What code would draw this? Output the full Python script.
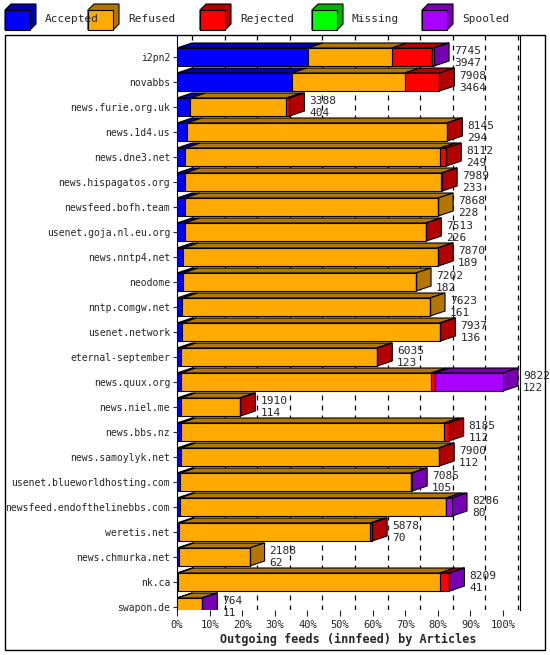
import numpy as np, pandas as pd, seaborn as sns, matplotlib
matplotlib.use("Agg")
import matplotlib.pyplot as plt
from matplotlib.patches import Polygon, Rectangle
import matplotlib.colors as mc

hosts = ["i2pn2","novabbs","news.furie.org.uk","news.1d4.us","news.dne3.net","news.hispagatos.org",
 "newsfeed.bofh.team","usenet.goja.nl.eu.org","news.nntp4.net","neodome","nntp.comgw.net",
 "usenet.network","eternal-september","news.quux.org","news.niel.me","news.bbs.nz",
 "news.samoylyk.net","usenet.blueworldhosting.com","newsfeed.endofthelinebbs.com","weretis.net",
 "news.chmurka.net","nk.ca","swapon.de"]
offered = [7745,7908,3388,8145,8112,7989,7868,7513,7870,7202,7623,7937,6035,9822,1910,8185,7900,7085,8286,5878,2188,8209,764]
accepted = [3947,3464,404,294,249,233,228,226,189,182,161,136,123,122,114,112,112,105,80,70,62,41,11]
rejected = [1230,1050,90,20,180,20,0,20,20,0,0,20,20,120,20,140,20,0,0,60,0,270,0]
missing = [0]*23
spooled = [50,0,0,0,0,0,0,0,0,0,0,0,0,2050,0,0,0,20,180,0,0,20,20]
refused = [o-a-r-m-s for o,a,r,m,s in zip(offered,accepted,rejected,missing,spooled)]
cats = ["Accepted","Refused","Rejected","Missing","Spooled"]
colors = ["#0000ff","#ffaa00","#ff0000","#00ff00","#aa00ff"]

mx = max(offered)
df = pd.DataFrame({"host":hosts,"Accepted":accepted,"Refused":refused,"Rejected":rejected,
                   "Missing":missing,"Spooled":spooled})
sns.set_style("white")
plt.rcParams['font.family'] = ['DejaVu Sans Mono']
fig = plt.figure(figsize=(5.5,6.55), dpi=100)
ax = fig.add_axes([177/550, 45/655, (520-177)/550, 575/655])
DX = 4.6; DY = 0.2; H = 0.72
YB, YT = 22.12, -0.88
xlim1 = 100*(520-177)/326
for t in range(0,101,10):
    ax.plot([t+DX, t+DX], [YB, YT], ls=(0,(4,4)), color="black", lw=0.9, zorder=0)
left = np.zeros(len(hosts))
segs = []
for c, col in zip(cats, colors):
    vals = df[c].values/mx*100
    sns.barplot(x=vals, y=hosts, left=left, color=col, orient="h", ax=ax, width=H,
                edgecolor="black", linewidth=0.8, saturation=1, zorder=3)
    segs.append((vals.copy(), left.copy(), col))
    left = left + vals
def dark(c, f=0.7):
    r,g,b = mc.to_rgb(c); return (r*f,g*f,b*f)
for i in range(len(hosts)):
    y0 = i - H/2; y1 = i + H/2
    last = None
    for vals, lf, col in segs:
        if vals[i] > 0:
            x0, x1 = lf[i], lf[i]+vals[i]
            ax.add_patch(Polygon([[x0,y0],[x0+DX,y0-DY],[x1+DX,y0-DY],[x1,y0]], closed=True,
                         facecolor=dark(col), edgecolor="black", lw=0.8, zorder=2))
            last = (x1, col)
    x1, col = last
    ax.add_patch(Polygon([[x1,y0],[x1+DX,y0-DY],[x1+DX,y1-DY],[x1,y1]], closed=True,
                 facecolor=dark(col), edgecolor="black", lw=0.8, zorder=2))
    ax.text(x1+DX+1.5, i-0.25, str(offered[i]), fontsize=8, va="center", ha="left", zorder=5)
    ax.text(x1+DX+1.5, i+0.25, str(accepted[i]), fontsize=8, va="center", ha="left", zorder=5)
ax.set_xlim(0, xlim1); ax.set_ylim(YB, YT)
ax.set_ylabel(""); ax.set_xlabel("Outgoing feeds (innfeed) by Articles", fontsize=8.5, fontweight="bold", labelpad=2)
ax.set_xticks(range(0,101,10)); ax.set_xticklabels([f"{t}%" for t in range(0,101,10)], fontsize=7.5)
ax.tick_params(axis="y", labelsize=7, length=3, pad=2, left=True)
ax.tick_params(axis="x", length=4, bottom=True)
for s in ["top","bottom"]: ax.spines[s].set_visible(False)
ax.spines["left"].set_color("black"); ax.spines["right"].set_color("black")
fig.patches.append(Rectangle((5/550, 5/655), 540/550, 615/655, transform=fig.transFigure,
                             fill=False, edgecolor="black", lw=1))
lx = [5, 88, 200, 312, 422]
for x, c, col in zip(lx, cats, colors):
    fig.patches.append(Polygon([[x/550,(655-30)/655],[(x+25)/550,(655-30)/655],[(x+31)/550,(655-24)/655],
                                [(x+31)/550,(655-4)/655],[(x+6)/550,(655-4)/655],[x/550,(655-10)/655]],
                               closed=True, transform=fig.transFigure, facecolor=dark(col), edgecolor="black", lw=0.8))
    fig.patches.append(Rectangle((x/550,(655-30)/655), 25/550, 20/655, transform=fig.transFigure,
                                 facecolor=col, edgecolor="black", lw=0.8))
    fig.text((x+40)/550, (655-19)/655, c, fontsize=8, va="center")
fig.savefig("out.png", dpi=100, facecolor="white")
